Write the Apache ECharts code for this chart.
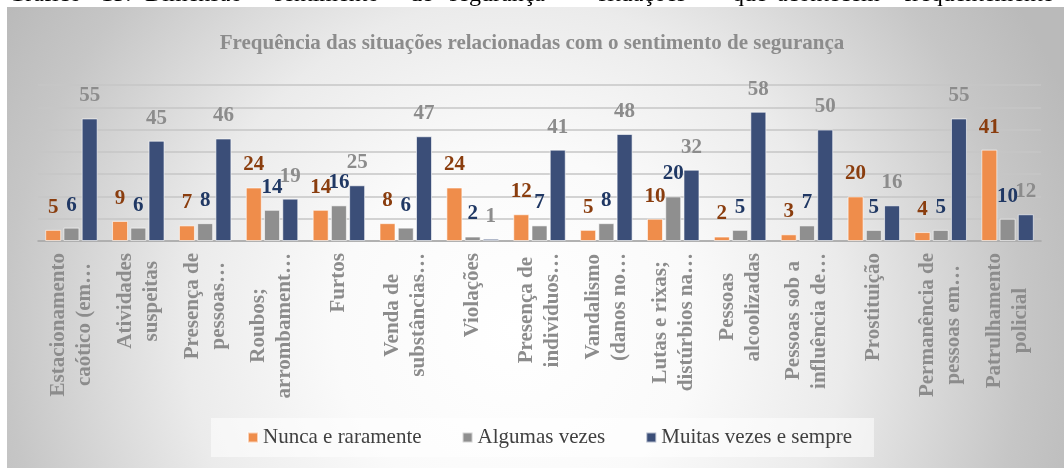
<!DOCTYPE html>
<html>
<head>
<meta charset="utf-8">
<script src="https://cdn.jsdelivr.net/npm/echarts@6/dist/echarts.min.js"></script>
<style>
  html, body { margin: 0; padding: 0; background: #ffffff; }
  #seguranca { width: 1064px; height: 468px; }
</style>
</head>
<body>
<div id="seguranca"></div>
<script>
var serif = "'Times New Roman', 'Liberation Serif', serif";

var categories = [
    'Estacionamento\ncaótico (em…',
    'Atividades\nsuspeitas',
    'Presença de\npessoas…',
    'Roubos;\narrombament…',
    'Furtos',
    'Venda de\nsubstâncias…',
    'Violações',
    'Presença de\nindivíduos…',
    'Vandalismo\n(danos no…',
    'Lutas e rixas;\ndistúrbios na…',
    'Pessoas\nalcoolizadas',
    'Pessoas sob a\ninfluência de…',
    'Prostituição',
    'Permanência de\npessoas em…',
    'Patrulhamento\npolicial'
];
var seriesNames = ['Nunca e raramente', 'Algumas vezes', 'Muitas vezes e sempre'];
var nunca = [5, 9, 7, 24, 14, 8, 24, 12, 5, 10, 2, 3, 20, 4, 41];
var algumas = [6, 6, 8, 14, 16, 6, 2, 7, 8, 20, 5, 7, 5, 5, 10];
var muitas = [55, 45, 46, 19, 25, 47, 1, 41, 48, 32, 58, 50, 16, 55, 12];

// legenda do documento (cortada no topo da imagem)
var captionWords = ['Gráfico', '15:', 'Dimensão', '-', 'sentimento', 'de', 'segurança', '–', 'situações', 'que', 'acontecem', 'frequentemente'];
var captionX = [8, 101, 145, 248, 274, 410, 449, 572, 598, 732, 777, 904];

var seguranca = echarts.init(document.getElementById('seguranca'));

// linhas dos rótulos centradas entre si: padding à direita calculado pela largura do texto
var catFont = 'bold 21px ' + serif;
var measureCtx = document.createElement('canvas').getContext('2d');
measureCtx.font = catFont;
var catRich = {};
var catFormatted = {};
categories.forEach(function (cat) {
    var lines = cat.split('\n');
    var widths = lines.map(function (s) { return measureCtx.measureText(s).width; });
    var maxW = Math.max.apply(null, widths);
    catFormatted[cat] = lines.map(function (s, i) {
        var pad = Math.round((maxW - widths[i]) / 2);
        var key = 'p' + pad;
        if (!catRich[key]) {
            catRich[key] = {
                color: '#8c8c8c',
                fontSize: 21,
                fontWeight: 'bold',
                fontFamily: serif,
                lineHeight: 26,
                padding: [0, pad, 0, 0]
            };
        }
        return '{' + key + '|' + s + '}';
    }).join('\n');
});

var graphics = captionWords.map(function (w, i) {
    return {
        type: 'text',
        z: -20,
        left: captionX[i],
        top: -17,
        style: {
            text: w,
            font: '24px ' + serif,
            fill: '#000000'
        }
    };
});
graphics.push({
    type: 'rect',
    z: -10,
    shape: { x: 7, y: 7, width: 1057, height: 461 },
    style: {
        fill: new echarts.graphic.RadialGradient(0.48, 0.7, 1.3, [
            { offset: 0, color: '#ffffff' },
            { offset: 0.3, color: '#fafafa' },
            { offset: 0.55, color: '#ebebeb' },
            { offset: 0.85, color: '#c6c6c6' },
            { offset: 1, color: '#bababa' }
        ])
    }
});

function barSeries(name, data, color, labelColor) {
    return {
        name: name,
        type: 'bar',
        data: data,
        barWidth: 16,
        barGap: '14%',
        itemStyle: {
            color: color,
            borderColor: 'rgba(255,255,255,0.6)',
            borderWidth: 1
        },
        label: {
            show: true,
            position: 'top',
            distance: 12,
            color: labelColor,
            fontSize: 21,
            fontWeight: 'bold',
            fontFamily: serif
        }
    };
}

option = {
    animation: false,
    graphic: graphics,
    title: {
        text: 'Frequência das situações relacionadas com o sentimento de segurança',
        left: 'center',
        top: 28,
        textStyle: {
            color: '#8c8c8c',
            fontSize: 21,
            fontWeight: 'bold',
            fontFamily: serif
        }
    },
    legend: {
        data: seriesNames,
        left: 211,
        top: 418,
        padding: [9, 22, 9, 36],
        backgroundColor: 'rgba(255,255,255,0.55)',
        icon: 'rect',
        itemWidth: 10,
        itemHeight: 10,
        itemGap: 40,
        textStyle: {
            color: '#404040',
            fontSize: 21,
            fontFamily: serif
        }
    },
    grid: {
        left: 38,
        right: 23,
        top: 85,
        bottom: 227
    },
    xAxis: {
        type: 'category',
        data: categories,
        axisTick: { show: false },
        axisLine: {
            lineStyle: { color: '#a6a6a6', width: 1.5 }
        },
        axisLabel: {
            interval: 0,
            rotate: 90,
            margin: 12,
            formatter: function (v) {
                return catFormatted[v];
            },
            rich: catRich
        }
    },
    yAxis: {
        type: 'value',
        min: 0,
        max: 70,
        interval: 10,
        axisLabel: { show: false },
        axisLine: { show: false },
        axisTick: { show: false },
        splitLine: {
            lineStyle: { color: '#c6c6c6', width: 1.5 }
        }
    },
    series: [
        barSeries(seriesNames[0], nunca, '#EF8D4B', '#8A3D0E'),
        barSeries(seriesNames[1], algumas, '#8F8F8F', '#203864'),
        barSeries(seriesNames[2], muitas, '#3B4E78', '#8c8c8c')
    ]
};
seguranca.setOption(option);
</script>
</body>
</html>
